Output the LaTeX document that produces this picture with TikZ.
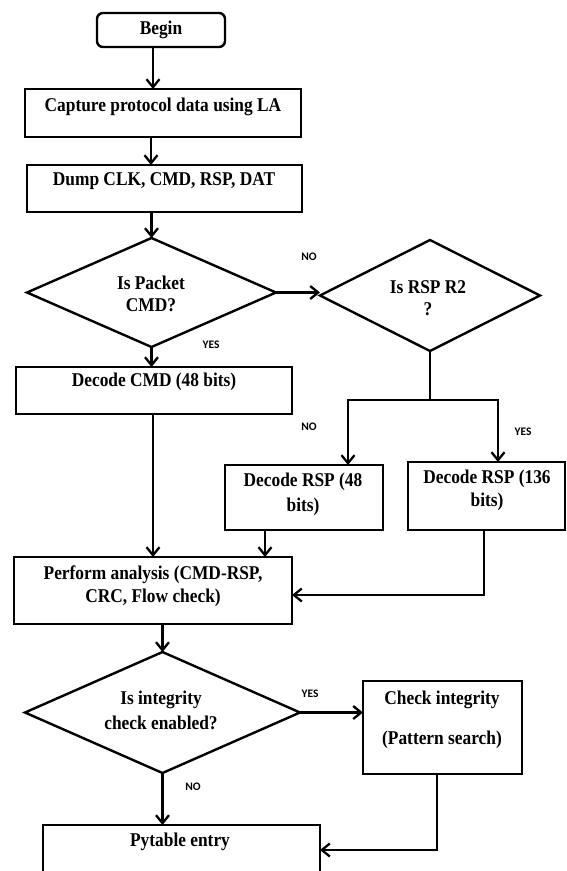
\documentclass[tikz,border=0pt]{standalone}
\usepackage{fontspec}
\setmainfont{Liberation Serif}[FakeStretch=0.89]
\newfontfamily\lblfont{Carlito}
\usetikzlibrary{arrows.meta,shapes.geometric}

\begin{document}
\begin{tikzpicture}[x=1pt,y=-1pt,
  shapebox/.style={draw=black,line width=2.4pt,rectangle,inner sep=0pt,outer sep=0pt},
  dia/.style={draw=black,line width=2.4pt,diamond,inner sep=0pt,outer sep=0pt},
  txt/.style={font=\bfseries\fontsize{19.5}{22}\selectfont,align=center,text=black,inner sep=0pt},
  lbl/.style={font=\lblfont\bfseries\fontsize{11.5}{14}\selectfont,text=black,inner sep=0pt},
  arr/.style={line width=2.3pt,-{Straight Barb[length=8pt,width=13pt]}},
  ln/.style={line width=2.3pt}]

\useasboundingbox (0,0) rectangle (566,871);
\fill[white] (0,0) rectangle (566,871);
\clip (0,0) rectangle (566,871);

% boxes
\node[shapebox,rounded corners=6pt,minimum width=128pt,minimum height=34pt] (begin) at (161,30) {};
\node[shapebox,minimum width=276pt,minimum height=48pt] (cap) at (163,113) {};
\node[shapebox,minimum width=275pt,minimum height=47pt] (dump) at (164.5,188.5) {};
\node[dia,shape aspect=2.284,minimum width=249pt,minimum height=109pt] (d1) at (151.5,292.5) {};
\node[dia,shape aspect=1.98,minimum width=220pt,minimum height=111pt] (d2) at (430,295.5) {};
\node[shapebox,minimum width=276pt,minimum height=47pt] (dcmd) at (154,390.5) {};
\node[shapebox,minimum width=158pt,minimum height=65pt] (r48) at (304,497.5) {};
\node[shapebox,minimum width=157pt,minimum height=68pt] (r136) at (486.5,496) {};
\node[shapebox,minimum width=278pt,minimum height=67pt] (perf) at (153,590.5) {};
\node[dia,shape aspect=2.27,minimum width=275pt,minimum height=121pt] (d3) at (162.5,712.5) {};
\node[shapebox,minimum width=159pt,minimum height=93pt] (chk) at (442.5,727.5) {};
\node[shapebox,minimum width=277pt,minimum height=50pt] (pyt) at (181.5,850) {};

% texts
\node[txt] (tbegin) at (161,30) {Begin};
\node[txt] (tcap) at (163,107) {Capture protocol data using LA};
\node[txt] (tdump) at (164,181) {Dump CLK, CMD, RSP, DAT};
\node[txt] (td1) at (151,294) {Is Packet\\CMD?};
\node[txt] (td2) at (428,298) {Is RSP R2\\?};
\node[txt] (tdcmd) at (154,382) {Decode CMD (48 bits)};
\node[txt,font=\bfseries\fontsize{19.5}{25}\selectfont] (tr48) at (303,494.5) {Decode RSP (48\\bits)};
\node[txt,font=\bfseries\fontsize{19.5}{23}\selectfont] (tr136) at (487,490.5) {Decode RSP (136\\bits)};
\node[txt,font=\bfseries\fontsize{19.5}{23}\selectfont] (tperf) at (153,586.5) {Perform analysis (CMD-RSP,\\CRC, Flow check)};
\node[txt,font=\bfseries\fontsize{19.5}{25}\selectfont] (td3) at (161,710.5) {Is integrity\\check enabled?};
\node[txt,font=\bfseries\fontsize{19.5}{40}\selectfont] (tchk) at (442,720) {Check integrity\\(Pattern search)};
\node[txt] (tpyt) at (180,842) {Pytable entry};

% labels
\node[lbl] (no1) at (309,257) {NO};
\node[lbl] (yes1) at (211,345) {YES};
\node[lbl] (no2) at (309,427) {NO};
\node[lbl] (yes2) at (523,432) {YES};
\node[lbl] (yes3) at (310,694) {YES};
\node[lbl] (no3) at (193,787) {NO};

% helper coordinates
\coordinate (c153) at (153,0);
\coordinate (c151) at (151,0);
\coordinate (c265) at (265,0);
\coordinate (c437) at (437,0);
\coordinate (sl) at (348,400);
\coordinate (sr) at (498,400);
\coordinate (j1) at (484,595);

% connectors
\draw[arr] (begin.south -| c153) -- (cap.north -| c153);
\draw[arr] (cap.south -| c151) -- (dump.north -| c151);
\draw[arr] (dump.south -| d1.north) -- (d1.north);
\draw[arr] (d1.east) -- (d1.east -| d2.west);
\draw[arr] (d1.south) -- (d1.south |- dcmd.north);
\draw[ln] (d2.south) -- (d2.south |- sl);
\draw[arr] (d2.south |- sl) -- (sl) -- (sl |- r48.north);
\draw[arr] (d2.south |- sr) -- (sr) -- (sr |- r136.north);
\draw[arr] (dcmd.south -| c153) -- (perf.north -| c153);
\draw[arr] (r48.south -| c265) -- (perf.north -| c265);
\draw[arr] (r136.south -| j1) -- (j1) -- (j1 -| perf.east);
\draw[arr] (perf.south -| d3.north) -- (d3.north);
\draw[arr] (d3.east) -- (d3.east -| chk.west);
\draw[arr] (d3.south) -- (d3.south |- pyt.north);
\draw[arr] (chk.south -| c437) |- (pyt.east);
\end{tikzpicture}
\end{document}
